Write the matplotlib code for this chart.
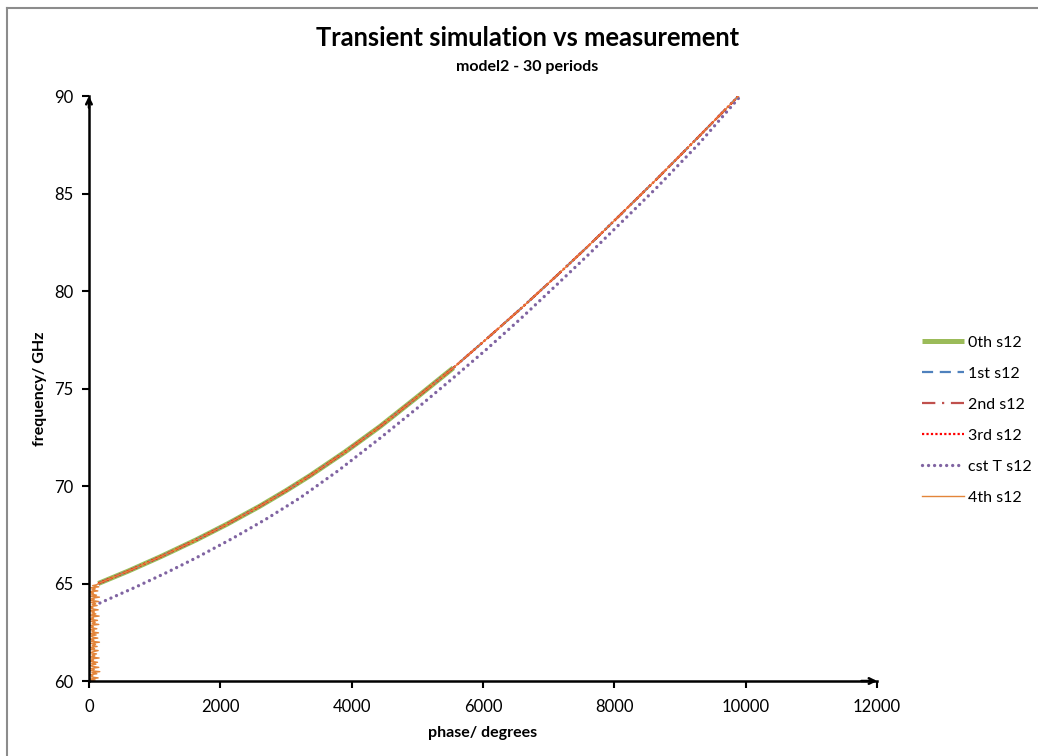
import numpy as np
import matplotlib
matplotlib.use("Agg")
import matplotlib.pyplot as plt
import matplotlib.lines as lines

plt.rcParams['font.family'] = ['Lato', 'DejaVu Sans']

# main s12 trace (phase in degrees, frequency in GHz)
phase_main = [142, 600, 1100, 1640, 2100, 2604, 3000, 3365, 3900, 4431, 5000,
              5548, 6050, 6563, 7100, 7600, 8100, 8644, 9250, 9890]
freq_main = [65.0, 65.64, 66.39, 67.25, 68.04, 68.97, 69.76, 70.53, 71.75, 73.05, 74.57,
             76.06, 77.53, 79.06, 80.72, 82.3, 83.94, 85.74, 87.8, 90.0]

# 0th order trace stops at the end of the measured band
phase_0th = phase_main[:12]
freq_0th = freq_main[:12]

# cst transient result
phase_cst = [167, 700, 1200, 1640, 2200, 2700, 3213, 3800, 4431, 5000, 5548,
             6050, 6563, 7100, 7600, 8100, 8644, 9300, 9920]
freq_cst = [64.0, 64.8, 65.59, 66.33, 67.34, 68.31, 69.39, 70.8, 72.45, 74.0, 75.55,
            77.0, 78.55, 80.25, 81.85, 83.5, 85.3, 87.6, 90.0]

# 4th order: noisy low band below cutoff, joins the main trace at 65 GHz
phase_noise = [10, 95, 20, 140, 35, 60, 15, 120, 45, 165, 25, 80, 30, 150, 50,
               20, 105, 40, 130, 15, 70, 35, 155, 25, 90, 45, 115, 20, 60, 140,
               30, 85, 15, 125, 50, 100, 25, 160, 40, 75, 20, 135, 55, 30, 110,
               15, 145, 45, 80, 25, 120, 35, 65, 20, 150, 50, 95, 30, 130, 15,
               70, 40, 155, 25, 105, 45, 85, 20, 140, 35, 60, 15, 125, 50, 100,
               30, 145, 20, 80, 40, 160, 25, 115, 35, 70, 15, 135, 45, 95, 30,
               150, 55, 120, 142]
freq_noise = [60.0, 60.05, 60.1, 60.16, 60.21, 60.27, 60.32, 60.37, 60.43, 60.48,
              60.53, 60.59, 60.64, 60.7, 60.75, 60.8, 60.86, 60.91, 60.96, 61.02,
              61.07, 61.13, 61.18, 61.23, 61.29, 61.34, 61.39, 61.45, 61.5, 61.56,
              61.61, 61.66, 61.72, 61.77, 61.82, 61.88, 61.93, 61.99, 62.04, 62.09,
              62.15, 62.2, 62.25, 62.31, 62.36, 62.42, 62.47, 62.52, 62.58, 62.63,
              62.68, 62.74, 62.79, 62.85, 62.9, 62.95, 63.01, 63.06, 63.11, 63.17,
              63.22, 63.28, 63.33, 63.38, 63.44, 63.49, 63.54, 63.6, 63.65, 63.71,
              63.76, 63.81, 63.87, 63.92, 63.97, 64.03, 64.08, 64.14, 64.19, 64.24,
              64.3, 64.35, 64.4, 64.46, 64.51, 64.57, 64.62, 64.67, 64.73, 64.78,
              64.83, 64.89, 64.94, 65.0]

x_ticks = [0, 2000, 4000, 6000, 8000, 10000, 12000]
y_ticks = [60, 65, 70, 75, 80, 85, 90]

fig = plt.figure(figsize=(10.38, 7.56), dpi=100)
ax = fig.add_axes([0.0857, 0.0992, 0.7593, 0.7738])

ax.plot(phase_0th, freq_0th, color='#9BBB59', lw=3.6, solid_capstyle='butt', label='0th s12')
ax.plot(phase_main, freq_main, color='#4F81BD', lw=1.6, ls=(0, (5, 3)), label='1st s12')
ax.plot(phase_main, freq_main, color='#C0504D', lw=1.6, ls=(0, (6, 3, 1, 3)), label='2nd s12')
ax.plot(phase_main, freq_main, color='#FF0000', lw=1.6, ls=(0, (1, 1)), label='3rd s12')
ax.plot(phase_cst, freq_cst, color='#8064A2', lw=2.4, ls=(0, (0.01, 1.8)),
        dash_capstyle='round', label='cst T s12')
ax.plot(phase_noise + phase_main[1:], freq_noise + freq_main[1:],
        color='#E3853A', lw=1.0, label='4th s12')

ax.set_xlim(0, 12000)
ax.set_ylim(60, 90)
ax.set_xticks(x_ticks)
ax.set_yticks(y_ticks)
ax.tick_params(axis='both', direction='out', length=5, width=1.5, labelsize=12, colors='black')
ax.tick_params(axis='x', pad=8)
ax.tick_params(axis='y', pad=6)
for side in ['top', 'right']:
    ax.spines[side].set_visible(False)
for side in ['left', 'bottom']:
    ax.spines[side].set_linewidth(1.8)

# arrow heads at the ends of both axes
ax.annotate('', xy=(1.0, 0), xytext=(0.98, 0), xycoords='axes fraction',
            arrowprops=dict(arrowstyle='->', lw=1.8, color='black', shrinkA=0, shrinkB=0))
ax.annotate('', xy=(0, 1.0), xytext=(0, 0.98), xycoords='axes fraction',
            arrowprops=dict(arrowstyle='->', lw=1.8, color='black', shrinkA=0, shrinkB=0))

ax.set_xlabel('phase/ degrees', fontsize=11.5, fontweight='bold', labelpad=8)
ax.set_ylabel('frequency/ GHz', fontsize=11.5, fontweight='bold', labelpad=5)

fig.text(0.508, 0.950, 'Transient simulation vs measurement', ha='center', va='center',
         fontsize=18.4, fontweight='bold')
fig.text(0.508, 0.911, 'model2 - 30 periods', ha='center', va='center',
         fontsize=11.5, fontweight='bold')

ax.legend(loc='center left', bbox_to_anchor=(1.057, 0.446), frameon=False, fontsize=11.5,
          borderaxespad=0, borderpad=0, handlelength=2.6, handletextpad=0.3,
          labelspacing=1.05)

# chart area border
fig.add_artist(lines.Line2D([7 / 1038, 7 / 1038], [0, 1 - 8 / 756], color='#8C8C8C', lw=1.5))
fig.add_artist(lines.Line2D([7 / 1038, 1], [1 - 8 / 756, 1 - 8 / 756], color='#8C8C8C', lw=1.5))

fig.savefig('out.png', dpi=100)
